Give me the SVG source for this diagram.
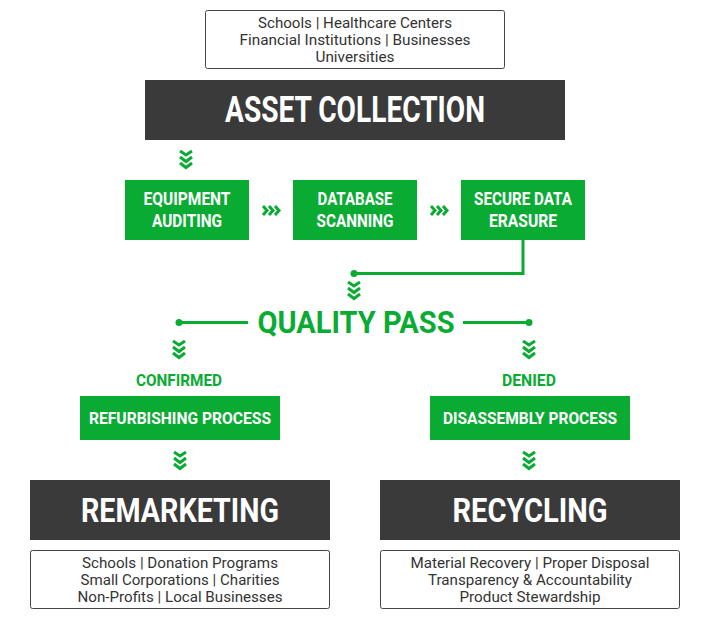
<svg xmlns="http://www.w3.org/2000/svg" width="710" height="620" viewBox="0 0 710 620">
<style>
.bg{fill:#ffffff}
.white{fill:#ffffff;stroke:#444444;stroke-width:1}
.dark{fill:#3a3a3a}
.green{fill:#0aab33}
.txt{font-family:Roboto,"Liberation Sans",sans-serif;font-size:14.5px;fill:#333333;text-anchor:middle}
.hd{font-family:Roboto,"Liberation Sans",sans-serif;font-weight:bold;fill:#ffffff;text-anchor:middle}
.gt{font-family:Roboto,"Liberation Sans",sans-serif;font-weight:bold;fill:#0aab33;text-anchor:middle}
.ln{fill:none;stroke:#0aab33;stroke-width:3}
.ch{fill:none;stroke:#0aab33;stroke-width:3;stroke-linejoin:miter}
</style>
<defs>
<g id="dch"><path class="ch" d="M-6,1 L0,5 L6,1 M-6,7 L0,11.5 L6,7 M-6,13 L0,17.5 L6,13"/></g>
<g id="rch"><path class="ch" d="M0,1 L4,5.5 L0,10 M6,1 L10,5.5 L6,10 M12,1 L16,5.5 L12,10"/></g>
</defs>
<rect class="bg" x="0" y="0" width="710" height="620"/>

<g id="sources">
<rect class="white" x="205.5" y="10.5" width="299" height="58" rx="2"/>
<text class="txt" x="355" y="28" textLength="194" lengthAdjust="spacingAndGlyphs">Schools | Healthcare Centers</text>
<text class="txt" x="355" y="45" textLength="231" lengthAdjust="spacingAndGlyphs">Financial Institutions | Businesses</text>
<text class="txt" x="355" y="62" textLength="79" lengthAdjust="spacingAndGlyphs">Universities</text>
</g>

<g id="asset-collection">
<rect class="dark" x="145" y="80" width="420" height="60"/>
<text class="hd" x="355" y="122" font-size="36" textLength="260" lengthAdjust="spacingAndGlyphs">ASSET COLLECTION</text>
</g>

<g id="equipment-auditing">
<rect class="green" x="125" y="180" width="124" height="60"/>
<text class="hd" x="187" y="205" font-size="18" textLength="87" lengthAdjust="spacingAndGlyphs">EQUIPMENT</text>
<text class="hd" x="187" y="227" font-size="18" textLength="70" lengthAdjust="spacingAndGlyphs">AUDITING</text>
</g>

<g id="database-scanning">
<rect class="green" x="293" y="180" width="124" height="60"/>
<text class="hd" x="355" y="205" font-size="18" textLength="75" lengthAdjust="spacingAndGlyphs">DATABASE</text>
<text class="hd" x="355" y="227" font-size="18" textLength="77" lengthAdjust="spacingAndGlyphs">SCANNING</text>
</g>

<g id="secure-data-erasure">
<rect class="green" x="461" y="180" width="124" height="60"/>
<text class="hd" x="523" y="205" font-size="18" textLength="98" lengthAdjust="spacingAndGlyphs">SECURE DATA</text>
<text class="hd" x="523" y="227" font-size="18" textLength="68" lengthAdjust="spacingAndGlyphs">ERASURE</text>
</g>

<g id="quality-pass">
<text class="gt" x="356" y="333" font-size="32" textLength="197" lengthAdjust="spacingAndGlyphs">QUALITY PASS</text>
</g>

<g id="confirmed">
<text class="gt" x="179" y="386" font-size="17" textLength="86" lengthAdjust="spacingAndGlyphs">CONFIRMED</text>
</g>

<g id="denied">
<text class="gt" x="529" y="386" font-size="17" textLength="54" lengthAdjust="spacingAndGlyphs">DENIED</text>
</g>

<g id="refurbishing-process">
<rect class="green" x="80" y="396" width="200" height="44"/>
<text class="hd" x="180" y="424" font-size="17" textLength="182" lengthAdjust="spacingAndGlyphs">REFURBISHING PROCESS</text>
</g>

<g id="disassembly-process">
<rect class="green" x="430" y="396" width="200" height="44"/>
<text class="hd" x="530" y="424" font-size="17" textLength="174" lengthAdjust="spacingAndGlyphs">DISASSEMBLY PROCESS</text>
</g>

<g id="remarketing">
<rect class="dark" x="30" y="480" width="300" height="60"/>
<text class="hd" x="180" y="522" font-size="33" textLength="198" lengthAdjust="spacingAndGlyphs">REMARKETING</text>
</g>

<g id="recycling">
<rect class="dark" x="380" y="480" width="300" height="60"/>
<text class="hd" x="530" y="522" font-size="33" textLength="155" lengthAdjust="spacingAndGlyphs">RECYCLING</text>
</g>

<g id="remarketing-outlets">
<rect class="white" x="30.5" y="550.5" width="299" height="58" rx="2"/>
<text class="txt" x="180" y="568" textLength="196" lengthAdjust="spacingAndGlyphs">Schools | Donation Programs</text>
<text class="txt" x="180" y="585" textLength="199" lengthAdjust="spacingAndGlyphs">Small Corporations | Charities</text>
<text class="txt" x="180" y="602" textLength="205" lengthAdjust="spacingAndGlyphs">Non-Profits | Local Businesses</text>
</g>

<g id="recycling-outcomes">
<rect class="white" x="380.5" y="550.5" width="299" height="58" rx="2"/>
<text class="txt" x="530" y="568" textLength="239" lengthAdjust="spacingAndGlyphs">Material Recovery | Proper Disposal</text>
<text class="txt" x="530" y="585" textLength="204" lengthAdjust="spacingAndGlyphs">Transparency &amp; Accountability</text>
<text class="txt" x="530" y="602" textLength="141" lengthAdjust="spacingAndGlyphs">Product Stewardship</text>
</g>

<g id="connectors">
<use href="#dch" x="186" y="150"/>
<use href="#rch" x="263" y="205"/>
<use href="#rch" x="431" y="205"/>
<path class="ln" d="M523,240 V273.5 H354"/>
<circle cx="354" cy="273.5" r="3.5" fill="#0aab33"/>
<use href="#dch" x="354" y="281"/>
<path class="ln" d="M179,322.5 H248 M463,322.5 H529"/>
<circle cx="179" cy="322.5" r="3.5" fill="#0aab33"/>
<circle cx="529" cy="322.5" r="3.5" fill="#0aab33"/>
<use href="#dch" x="179" y="340"/>
<use href="#dch" x="529" y="340"/>
<use href="#dch" x="180" y="451"/>
<use href="#dch" x="529" y="451"/>
</g>
</svg>
